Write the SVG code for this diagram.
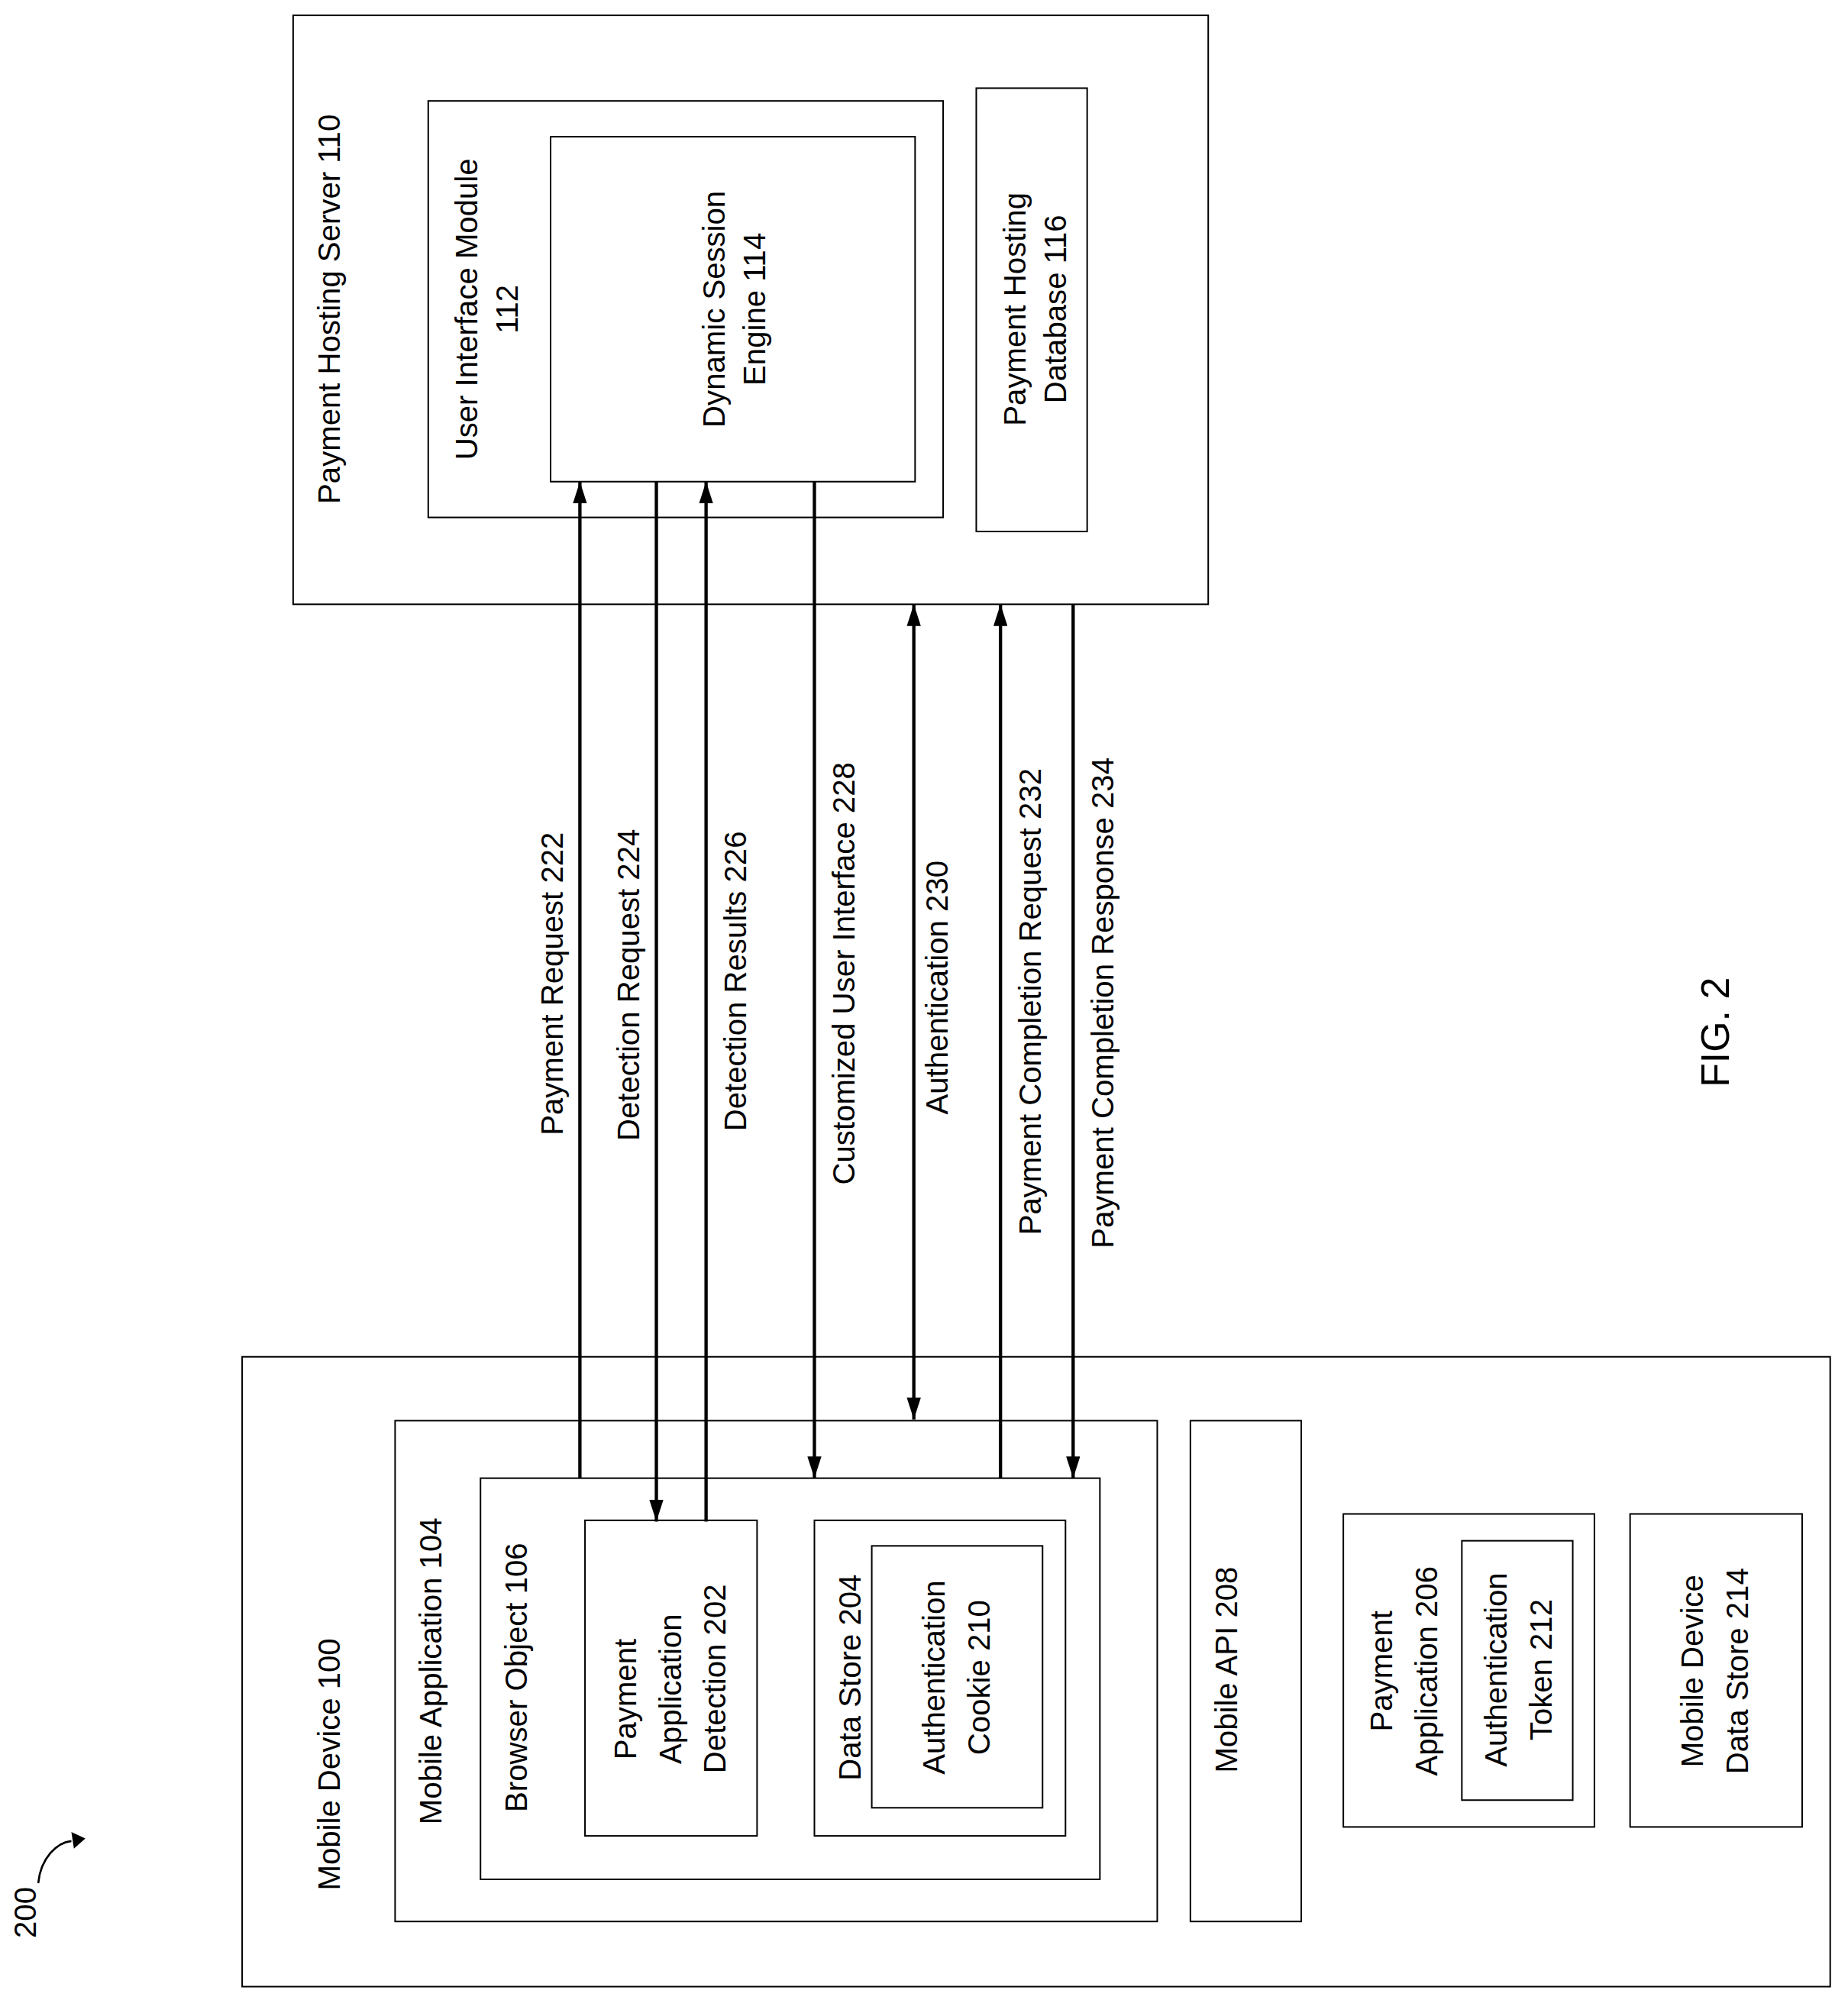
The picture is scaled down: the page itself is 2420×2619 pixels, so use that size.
<svg xmlns="http://www.w3.org/2000/svg" width="2420" height="2619" viewBox="0 0 2420 2619">
<defs>
<style>
.b{fill:none;stroke:#000;stroke-width:1.2}
.c{fill:none;stroke:#000;stroke-width:2.6}
text{font-family:"Liberation Sans",Arial,sans-serif;font-size:24px;fill:#000;text-anchor:middle;dominant-baseline:central}
</style>
<marker id="ah" viewBox="0 0 10 10" refX="10" refY="5" markerWidth="17" markerHeight="11" markerUnits="userSpaceOnUse" orient="auto-start-reverse" preserveAspectRatio="none"><path d="M0,0L10,5L0,10z" fill="#000"/></marker>
</defs>
<rect width="2420" height="2619" fill="#fff"/>
<g transform="scale(1.669,1.673)">
<g id="server110"><rect class="b" x="230" y="12" width="718" height="461"/><text transform="translate(258,242) rotate(-90)">Payment Hosting Server 110</text></g>
<g id="ui112"><rect class="b" x="336" y="79" width="404" height="326"/><text transform="translate(366,242) rotate(-90)">User Interface Module</text><text transform="translate(398,242) rotate(-90)">112</text></g>
<g id="dse114"><rect class="b" x="432" y="107" width="286" height="270"/><text transform="translate(560,242) rotate(-90)">Dynamic Session</text><text transform="translate(592,242) rotate(-90)">Engine 114</text></g>
<g id="db116"><rect class="b" x="766" y="69" width="87" height="347"/><text transform="translate(796,242) rotate(-90)">Payment Hosting</text><text transform="translate(828,242) rotate(-90)">Database 116</text></g>
<g id="md100"><rect class="b" x="190" y="1062" width="1246" height="493"/><text transform="translate(258,1381) rotate(-90)">Mobile Device 100</text></g>
<g id="ma104"><rect class="b" x="310" y="1112" width="598" height="392"/><text transform="translate(338,1308) rotate(-90)">Mobile Application 104</text></g>
<g id="bo106"><rect class="b" x="377" y="1157" width="486" height="314"/><text transform="translate(405,1313) rotate(-90)">Browser Object 106</text></g>
<g id="pad202"><rect class="b" x="459" y="1190" width="135" height="247"/><text transform="translate(491,1330) rotate(-90)">Payment</text><text transform="translate(526,1322) rotate(-90)">Application</text><text transform="translate(561,1314) rotate(-90)">Detection 202</text></g>
<g id="ds204"><rect class="b" x="639" y="1190" width="197" height="247"/><text transform="translate(667,1313) rotate(-90)">Data Store 204</text></g>
<g id="cookie210"><rect class="b" x="684" y="1210" width="134" height="205"/><text transform="translate(733,1313) rotate(-90)">Authentication</text><text transform="translate(768,1313) rotate(-90)">Cookie 210</text></g>
<g id="api208"><rect class="b" x="934" y="1112" width="87" height="392"/><text transform="translate(962,1307) rotate(-90)">Mobile API 208</text></g>
<g id="pa206"><rect class="b" x="1054" y="1185" width="197" height="245"/><text transform="translate(1084,1308) rotate(-90)">Payment</text><text transform="translate(1119,1308) rotate(-90)">Application 206</text></g>
<g id="token212"><rect class="b" x="1147" y="1206" width="87" height="203"/><text transform="translate(1174,1307) rotate(-90)">Authentication</text><text transform="translate(1209,1307) rotate(-90)">Token 212</text></g>
<g id="mds214"><rect class="b" x="1279" y="1185" width="135" height="245"/><text transform="translate(1328,1308) rotate(-90)">Mobile Device</text><text transform="translate(1363,1308) rotate(-90)">Data Store 214</text></g>
<g id="connectors">
<line class="c" x1="455" y1="1157" x2="455" y2="377" marker-end="url(#ah)"/>
<line class="c" x1="515" y1="377" x2="515" y2="1191" marker-end="url(#ah)"/>
<line class="c" x1="554" y1="1191" x2="554" y2="377" marker-end="url(#ah)"/>
<line class="c" x1="639" y1="377" x2="639" y2="1157" marker-end="url(#ah)"/>
<line class="c" x1="717" y1="473" x2="717" y2="1111" marker-start="url(#ah)" marker-end="url(#ah)"/>
<line class="c" x1="785" y1="1157" x2="785" y2="473" marker-end="url(#ah)"/>
<line class="c" x1="842" y1="473" x2="842" y2="1157" marker-end="url(#ah)"/>
<text transform="translate(433,770) rotate(-90)">Payment Request 222</text>
<text transform="translate(493,771) rotate(-90)">Detection Request 224</text>
<text transform="translate(577,768) rotate(-90)">Detection Results 226</text>
<text transform="translate(662,762) rotate(-90)">Customized User Interface 228</text>
<text transform="translate(735,773) rotate(-90)">Authentication 230</text>
<text transform="translate(808,784) rotate(-90)">Payment Completion Request  232</text>
<text transform="translate(865,785) rotate(-90)">Payment Completion Response 234</text>
<path d="M30,1474 C32,1454 45,1442 56,1441" fill="none" stroke="#000" stroke-width="1.6"/>
<path d="M56,1434 L67,1439 L58,1447 z" fill="#000"/>
</g>
<text transform="translate(20,1497) rotate(-90)">200</text>
<text transform="translate(1346,808) rotate(-90)" style="font-size:31px">FIG. 2</text>
</g>
</svg>
